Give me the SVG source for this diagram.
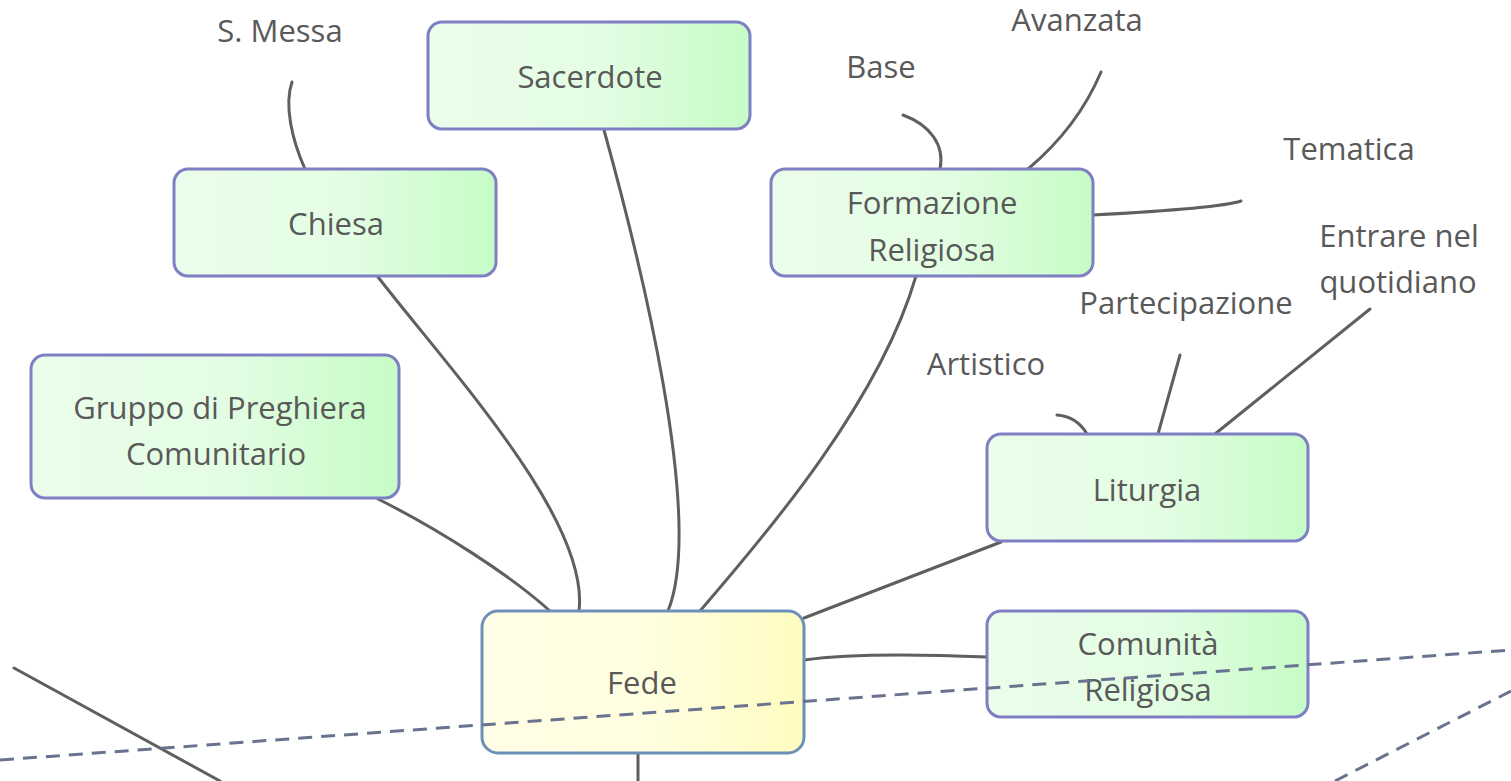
<svg xmlns="http://www.w3.org/2000/svg" width="1511" height="781" viewBox="0 0 1511 781">
<defs>
<linearGradient id="g" x1="0" y1="0" x2="1" y2="0">
<stop offset="0" stop-color="#ebfdeb"/>
<stop offset="0.55" stop-color="#e3fde3"/>
<stop offset="1" stop-color="#c6fcc6"/>
</linearGradient>
<linearGradient id="y" x1="0" y1="0" x2="1" y2="0">
<stop offset="0" stop-color="#fffee6"/>
<stop offset="0.55" stop-color="#fffede"/>
<stop offset="1" stop-color="#fffcc0"/>
</linearGradient>
<style>
.n{fill:url(#g);stroke:#7f7fc3;stroke-width:3}
.f{fill:url(#y);stroke:#6b91b8;stroke-width:3}
.c{fill:none;stroke:#5f5f5f;stroke-width:3;stroke-linecap:round}
.d{fill:none;stroke:#69738f;stroke-width:3;stroke-dasharray:14 9}
text{font-family:"Open Sans","Noto Sans","DejaVu Sans",sans-serif;font-size:31px;fill:#595959;text-anchor:middle}
</style>
</defs>
<rect width="1511" height="781" fill="#ffffff"/>
<g id="connectors">
<path class="c" d="M604,130 C640,260 705,520 668,611"/>
<path class="c" d="M378,277 C450,370 590,520 579,611"/>
<path class="c" d="M378,499 C440,530 510,575 550,611"/>
<path class="c" d="M916,276 C880,400 770,530 700,611"/>
<path class="c" d="M1001,542 L804,618"/>
<path class="c" d="M804,660 C860,652 940,655 987,657"/>
<path class="c" d="M638,754 L638,781"/>
<path class="c" d="M14,668 L220,781"/>
<path class="c" d="M305,169 C292,140 284,105 292,82"/>
<path class="c" d="M940,169 C945,145 930,125 903,115"/>
<path class="c" d="M1028,169 C1060,142 1085,110 1101,72"/>
<path class="c" d="M1093,215 C1150,212 1220,208 1241,201"/>
<path class="c" d="M1087,434 C1080,422 1070,416 1057,415"/>
<path class="c" d="M1158,434 L1180,355"/>
<path class="c" d="M1215,434 L1370,309"/>
</g>
<g id="sacerdote"><rect class="n" x="428" y="22" width="322" height="107" rx="14"/><text x="590" y="88">Sacerdote</text></g>
<g id="chiesa"><rect class="n" x="174" y="169" width="322" height="107" rx="14"/><text x="336" y="235">Chiesa</text></g>
<g id="formazione"><rect class="n" x="771" y="169" width="322" height="107" rx="14"/><text x="932" y="214">Formazione</text><text x="932" y="261">Religiosa</text></g>
<g id="gruppo"><rect class="n" x="31" y="355" width="368" height="143" rx="14"/><text x="220" y="419">Gruppo di Preghiera</text><text x="216" y="465">Comunitario</text></g>
<g id="liturgia"><rect class="n" x="987" y="434" width="321" height="107" rx="14"/><text x="1147" y="501">Liturgia</text></g>
<g id="comunita"><rect class="n" x="987" y="611" width="321" height="106" rx="14"/><text x="1148" y="655">Comunità</text><text x="1148" y="701">Religiosa</text></g>
<g id="fede"><rect class="f" x="482" y="611" width="322" height="142" rx="16"/><text x="642" y="694">Fede</text></g>
<g id="labels">
<text x="280" y="42">S. Messa</text>
<text x="881" y="78">Base</text>
<text x="1077" y="31">Avanzata</text>
<text x="1349" y="160">Tematica</text>
<text x="1399" y="247">Entrare nel</text>
<text x="1398" y="293">quotidiano</text>
<text x="1186" y="314">Partecipazione</text>
<text x="986" y="375">Artistico</text>
</g>
<g id="boundaries">
<path class="d" d="M0,760 L1511,650"/>
<path class="d" d="M1335,781 L1511,691"/>
</g>
</svg>
